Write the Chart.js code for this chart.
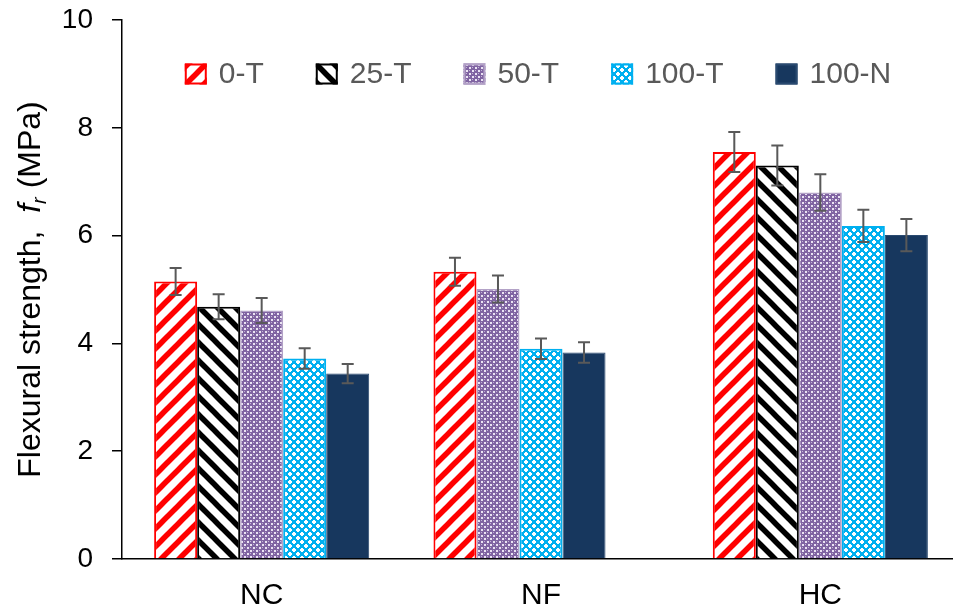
<!DOCTYPE html>
<html>
<head>
<meta charset="utf-8">
<script src="https://cdn.jsdelivr.net/npm/chart.js@4/dist/chart.umd.min.js"></script>
<style>
  html, body { margin: 0; padding: 0; background: #fff; overflow: hidden; }
  canvas { display: block; }
</style>
</head>
<body>
<canvas id="chart" width="960" height="610"></canvas>
<script>
// Flexural strength (MPa) per concrete type and series, with standard deviations
const categories = ['NC', 'NF', 'HC'];
const seriesNames = ['0-T', '25-T', '50-T', '100-T', '100-N'];

const strength0T   = [5.15, 5.33, 7.55];
const strength25T  = [4.68, null, 7.30];
const strength50T  = [4.61, 5.01, 6.80];
const strength100T = [3.72, 3.90, 6.18];
const strength100N = [3.44, 3.83, 6.01];

const error0T   = [0.25, 0.26, 0.37];
const error25T  = [0.23, null, 0.37];
const error50T  = [0.23, 0.25, 0.34];
const error100T = [0.19, 0.19, 0.30];
const error100N = [0.18, 0.19, 0.30];

const yTicks = [0, 2, 4, 6, 8, 10];

const FONT = "'Liberation Sans', Arial, Helvetica, sans-serif";
Chart.defaults.font.family = FONT;

const ctx = document.getElementById('chart').getContext('2d');

// ---- fill patterns -------------------------------------------------------
function tile(size, draw) {
  const c = document.createElement('canvas');
  c.width = c.height = size;
  const g = c.getContext('2d');
  draw(g, size);
  return ctx.createPattern(c, 'repeat');
}

function stripes(color, rising) {
  return tile(18, (g, n) => {
    g.fillStyle = '#fff';
    g.fillRect(0, 0, n, n);
    g.strokeStyle = color;
    g.lineWidth = 5.5;
    for (let x0 = -n; x0 <= n; x0 += n) {
      g.beginPath();
      if (rising) { g.moveTo(x0 - 2, n + 2); g.lineTo(x0 + n + 2, -2); }
      else { g.moveTo(x0 - 2, -2); g.lineTo(x0 + n + 2, n + 2); }
      g.stroke();
    }
  });
}

const purpleDots = tile(6, (g, n) => {
  g.fillStyle = '#8064A2';
  g.fillRect(0, 0, n, n);
  g.fillStyle = '#ebe4f3';
  [[1, 1], [4, 4]].forEach(([cx, cy]) => {
    g.fillRect(cx, cy, 2, 2);
  });
  g.fillStyle = '#c4b4d8';
  [[1, 4], [4, 1]].forEach(([cx, cy]) => g.fillRect(cx, cy, 1, 1));
});

const cyanLattice = tile(8, (g, n) => {
  g.fillStyle = '#00B0F0';
  g.fillRect(0, 0, n, n);
  g.fillStyle = '#fff';
  [[2, 2], [6, 6]].forEach(([cx, cy]) => {
    for (const [dx, dy] of [[0, 0], [n, 0], [0, n], [n, n], [-n, 0], [0, -n], [-n, -n], [n, -n], [-n, n]]) {
      const x = cx + dx, y = cy + dy;
      g.fillRect(x - 2, y - 1, 4, 2);
      g.fillRect(x - 1, y - 2, 2, 4);
    }
  });
});

const seriesStyles = [
  { fill: stripes('#FF0000', true),  border: '#FF0000', width: 2 },
  { fill: stripes('#000000', false), border: '#000000', width: 2 },
  { fill: purpleDots,                border: '#B3A2C7', width: 1.5 },
  { fill: cyanLattice,               border: '#00B0F0', width: 2 },
  { fill: '#17375E',                 border: '#2A4A70', width: 1 }
];

const seriesValues = [strength0T, strength25T, strength50T, strength100T, strength100N];
const seriesErrors = [error0T, error25T, error50T, error100T, error100N];

// Within each group the bars that exist are packed from the left,
// so a bar's slot is its rank among the series present in that group.
const slots = [];
categories.forEach((_, c) => {
  let k = 0;
  seriesValues.forEach((vals, s) => {
    if (vals[c] == null) return;
    if (!slots[k]) {
      slots[k] = {
        data: categories.map(() => null),
        errors: categories.map(() => null),
        series: categories.map(() => null)
      };
    }
    slots[k].data[c] = vals[c];
    slots[k].errors[c] = seriesErrors[s][c];
    slots[k].series[c] = s;
    k++;
  });
});

const datasets = slots.map((slot, k) => ({
  label: 'slot ' + (k + 1),
  data: slot.data,
  errors: slot.errors,
  backgroundColor: slot.series.map(s => s == null ? 'rgba(0,0,0,0)' : seriesStyles[s].fill),
  borderColor: slot.series.map(s => s == null ? 'rgba(0,0,0,0)' : seriesStyles[s].border),
  borderWidth: slot.series.map(s => s == null ? 0 : seriesStyles[s].width),
  categoryPercentage: 0.77,
  barPercentage: 1.0
}));

// ---- error bars ----------------------------------------------------------
const errorBarPlugin = {
  id: 'errorBars',
  afterDatasetsDraw(chart) {
    const { ctx: g, scales: { y } } = chart;
    g.save();
    g.strokeStyle = '#595959';
    g.lineWidth = 2;
    chart.data.datasets.forEach((ds, i) => {
      const meta = chart.getDatasetMeta(i);
      meta.data.forEach((bar, j) => {
        const v = ds.data[j], e = ds.errors[j];
        if (v == null || e == null) return;
        const yHi = y.getPixelForValue(v + e);
        const yLo = y.getPixelForValue(v - e);
        const x = bar.x, cap = 6;
        g.beginPath();
        g.moveTo(x, yHi); g.lineTo(x, yLo);
        g.moveTo(x - cap, yHi); g.lineTo(x + cap, yHi);
        g.moveTo(x - cap, yLo); g.lineTo(x + cap, yLo);
        g.stroke();
      });
    });
    g.restore();
  }
};

// ---- legend drawn across the top of the plot -----------------------------
const seriesLegendPlugin = {
  id: 'seriesLegend',
  afterDraw(chart) {
    const g = chart.ctx, area = chart.chartArea;
    const box = 22, boxH = 21, textGap = 12, itemGap = 52, cy = 74;
    g.save();
    g.font = '30px ' + FONT;
    const widths = seriesNames.map(n => box + textGap + g.measureText(n).width);
    const total = widths.reduce((a, b) => a + b, 0) + itemGap * (seriesNames.length - 1);
    let x = (area.left + area.right) / 2 - total / 2 - 3;
    seriesNames.forEach((name, s) => {
      const st = seriesStyles[s];
      g.fillStyle = st.fill;
      g.fillRect(x, cy - boxH / 2, box, boxH);
      g.strokeStyle = st.border;
      g.lineWidth = 2;
      g.strokeRect(x + 1, cy - boxH / 2 + 1, box - 2, boxH - 2);
      g.fillStyle = '#595959';
      g.textBaseline = 'middle';
      g.textAlign = 'left';
      g.fillText(name, x + box + textGap, cy + 1);
      x += widths[s] + itemGap;
    });
    g.restore();
  }
};

// ---- y-axis title with italic f and subscript r ---------------------------
const yTitlePlugin = {
  id: 'yTitle',
  afterDraw(chart) {
    const g = chart.ctx, area = chart.chartArea;
    const parts = [
      { t: 'Flexural strength,  ', f: '32px ' + FONT, dy: 0 },
      { t: 'f', f: 'italic 32px ' + FONT, dy: 0 },
      { t: 'r', f: 'italic 20px ' + FONT, dy: 6 },
      { t: ' (MPa)', f: '32px ' + FONT, dy: 0 }
    ];
    g.save();
    g.translate(40, (area.top + area.bottom) / 2);
    g.rotate(-Math.PI / 2);
    g.fillStyle = '#000';
    g.textBaseline = 'alphabetic';
    g.textAlign = 'left';
    let total = 0;
    parts.forEach(p => { g.font = p.f; p.w = g.measureText(p.t).width; total += p.w; });
    let x = -total / 2;
    parts.forEach(p => { g.font = p.f; g.fillText(p.t, x, p.dy); x += p.w; });
    g.restore();
  }
};

new Chart(ctx, {
  type: 'bar',
  data: { labels: categories, datasets },
  options: {
    responsive: false,
    animation: false,
    devicePixelRatio: 1,
    layout: { padding: { top: 20, right: 0, bottom: 0, left: 0 } },
    plugins: {
      legend: { display: false },
      tooltip: { enabled: false }
    },
    scales: {
      x: {
        type: 'category',
        offset: true,
        grid: { drawOnChartArea: false, drawTicks: false },
        border: { display: true, color: '#000', width: 1.5 },
        ticks: { color: '#000', font: { size: 30 }, padding: 19 },
        afterFit(axis) { axis.height = 51; axis.paddingLeft = 0; axis.paddingRight = 0; }
      },
      y: {
        min: 0,
        max: 10,
        afterBuildTicks(axis) { axis.ticks = yTicks.map(v => ({ value: v })); },
        grid: { drawOnChartArea: false, drawTicks: true, tickLength: 10, color: '#000', lineWidth: 1.5 },
        border: { display: true, color: '#000', width: 1.5 },
        ticks: { color: '#000', font: { size: 28 }, padding: 19 },
        afterFit(axis) { axis.width = 122; axis.paddingTop = 0; axis.paddingBottom = 0; }
      }
    }
  },
  plugins: [errorBarPlugin, seriesLegendPlugin, yTitlePlugin]
});
</script>
</body>
</html>
